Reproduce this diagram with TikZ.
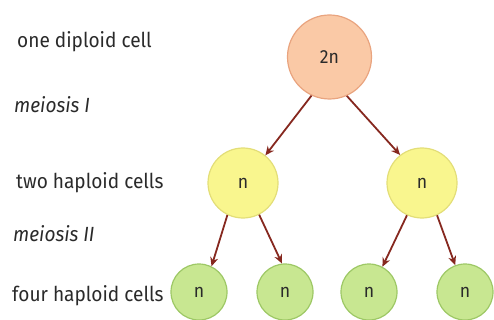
\documentclass[tikz,border=0pt]{standalone}
\usepackage{fontspec}
\setmainfont{Fira Sans}[FakeStretch=0.93]
\usetikzlibrary{arrows.meta}
\definecolor{arrowred}{HTML}{86281F}
\definecolor{dipfill}{HTML}{FAC9A6}
\definecolor{dipdraw}{HTML}{E9A47F}
\definecolor{hapfill}{HTML}{F9F68E}
\definecolor{hapdraw}{HTML}{E3DE78}
\definecolor{grfill}{HTML}{C8E791}
\definecolor{grdraw}{HTML}{9DC865}
\definecolor{txt}{HTML}{2A2A2A}
\tikzset{
  lbl/.style={anchor=base west, inner sep=0pt, text=txt, font=\fontsize{20.5}{24}\selectfont},
  ilbl/.style={lbl, font=\fontsize{20.5}{24}\selectfont\itshape},
  cell/.style={circle, line width=1.2pt, inner sep=0pt, text=txt, font=\fontsize{19}{22}\selectfont},
  dip/.style={cell, fill=dipfill, draw=dipdraw, minimum size=84pt},
  hap/.style={cell, fill=hapfill, draw=hapdraw, minimum size=70pt},
  four/.style={cell, fill=grfill, draw=grdraw, minimum size=56pt},
  arr/.style={draw=arrowred, line width=1.8pt, -{Stealth[length=9pt,width=8pt]}}
}
\begin{document}
\begin{tikzpicture}[x=1pt,y=-1pt]
\useasboundingbox (0,0) rectangle (494,320);
\node[lbl] (t1) at (17,48) {one diploid cell};
\node[ilbl] (t2) at (14,113) {meiosis I};
\node[lbl] (t3) at (16,188) {two haploid cells};
\node[ilbl] (t4) at (13,241) {meiosis II};
\node[lbl] (t5) at (12,301) {four haploid cells};
\node[dip] (d) at (329.5,57) {2n};
\node[hap] (h1) at (243,183) {n};
\node[hap] (h2) at (422,183) {n};
\node[four] (g1) at (199,292) {n};
\node[four] (g2) at (285,292) {n};
\node[four] (g3) at (369,292) {n};
\node[four] (g4) at (465,292) {n};
\draw[arr] (d.-115) -- (h1.51);
\draw[arr] (d.-66) -- (h2.128);
\draw[arr] (h1.-116) -- (g1.64);
\draw[arr] (h1.-63) -- (g2.96);
\draw[arr] (h2.-115) -- (g3.62);
\draw[arr] (h2.-65) -- (g4.110);
\end{tikzpicture}
\end{document}
